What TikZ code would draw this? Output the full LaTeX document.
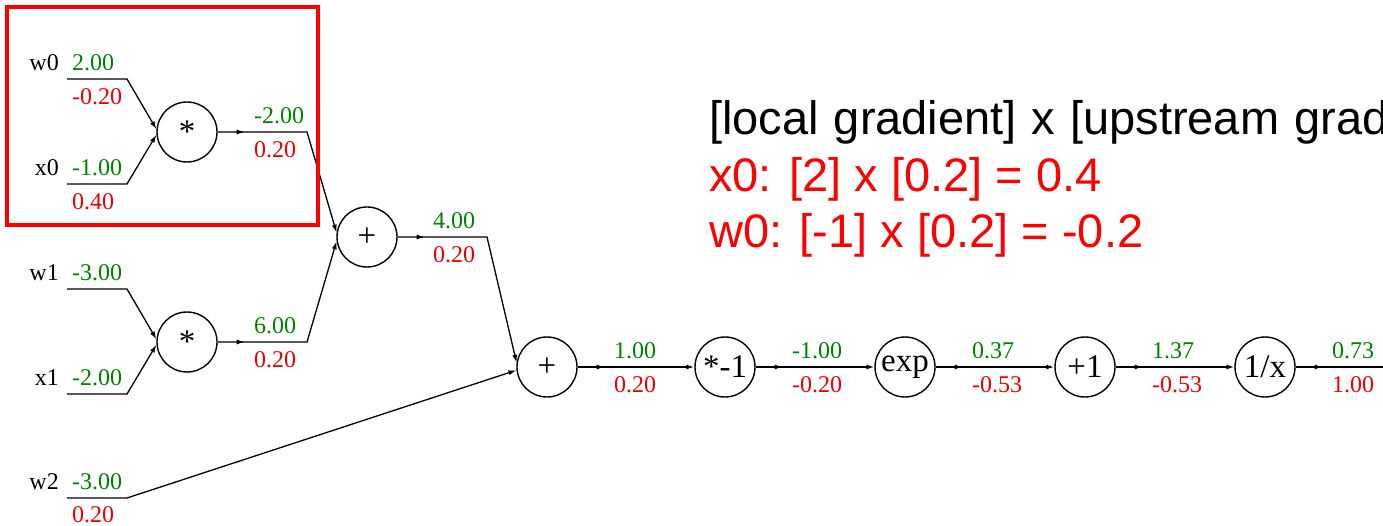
\documentclass[tikz,border=0pt]{standalone}
\usepackage{fontspec}
\setmainfont{Liberation Serif}
\newfontfamily\slidefont{Liberation Sans}
\usetikzlibrary{arrows.meta,decorations.markings}

\definecolor{fwdgreen}{RGB}{0,128,0}
\definecolor{bwdred}{RGB}{235,0,0}

\tikzset{
  gate/.style={draw, circle, minimum size=60pt, inner sep=0pt, line width=1.4pt,
    font=\fontsize{33}{33}\selectfont},
  wire/.style={line width=1.3pt, -{Latex[length=8pt,width=5pt]}},
  midtip/.style={postaction={decorate}, decoration={markings,
    mark=at position 27pt with {\arrow{Latex[length=8pt,width=5pt]}}}},
  varname/.style={inner sep=0pt, anchor=east, font=\fontsize{24}{24}\selectfont},
  fwd/.style={inner sep=0pt, anchor=west, text=fwdgreen, font=\fontsize{24}{24}\selectfont},
  bwd/.style={inner sep=0pt, anchor=west, text=bwdred, font=\fontsize{24}{24}\selectfont},
  bigtext/.style={inner sep=0pt, anchor=base west, font=\slidefont\fontsize{47}{56}\selectfont},
}

\begin{document}
\begin{tikzpicture}[x=1pt, y=-1pt]
  \useasboundingbox (0,0) rectangle (1383,526);
  \clip (0,0) rectangle (1383,526);

  % gates
  \node[gate] (mul0) at (187,132) {\raisebox{-0.22em}{*}};
  \node[gate] (add0) at (367,237) {+};
  \node[gate] (mul1) at (187,342) {\raisebox{-0.22em}{*}};
  \node[gate] (add1) at (547,367) {+};
  \node[gate] (neg) at (725,367) {*-1};
  \node[gate] (exp) at (905,367) {exp};
  \node[gate] (inc) at (1085,367) {+1};
  \node[gate] (inv) at (1265,367) {1/x};

  % wire ends and bends
  \coordinate (w0s) at (67,79);  \coordinate (w0b) at (127,79);
  \coordinate (x0s) at (67,184); \coordinate (x0b) at (127,184);
  \coordinate (w1s) at (67,289); \coordinate (w1b) at (127,289);
  \coordinate (x1s) at (67,394); \coordinate (x1b) at (127,394);
  \coordinate (w2s) at (67,498); \coordinate (w2b) at (127,498);
  \coordinate (m0b) at (307,132);
  \coordinate (m1b) at (307,342);
  \coordinate (a0b) at (487,237);
  \coordinate (outend) at (1400,367);

  % wires
  \draw[wire] (w0s) -- (w0b) -- (mul0.175);
  \draw[wire] (x0s) -- (x0b) -- (mul0.185);
  \draw[wire] (w1s) -- (w1b) -- (mul1.175);
  \draw[wire] (x1s) -- (x1b) -- (mul1.185);
  \draw[wire] (w2s) -- (w2b) -- (add1.186);
  \draw[wire, midtip] (mul0) -- (m0b) -- (add0.172);
  \draw[wire, midtip] (mul1) -- (m1b) -- (add0.188);
  \draw[wire, midtip] (add0) -- (a0b) -- (add1.172);
  \draw[wire, midtip] (add1) -- (neg);
  \draw[wire, midtip] (neg) -- (exp);
  \draw[wire, midtip] (exp) -- (inc);
  \draw[wire, midtip] (inc) -- (inv);
  \draw[line width=1.3pt, midtip] (inv) -- (outend);

  % inputs
  \node[varname] (nw0) at (59,63) {w0};
  \node[fwd] (vw0) at (72,63) {2.00};
  \node[bwd] (gw0) at (72,97) {-0.20};
  \node[varname] (nx0) at (59,168) {x0};
  \node[fwd] (vx0) at (72,168) {-1.00};
  \node[bwd] (gx0) at (72,202) {0.40};
  \node[varname] (nw1) at (59,273) {w1};
  \node[fwd] (vw1) at (72,273) {-3.00};
  \node[varname] (nx1) at (59,378) {x1};
  \node[fwd] (vx1) at (72,378) {-2.00};
  \node[varname] (nw2) at (59,482) {w2};
  \node[fwd] (vw2) at (72,482) {-3.00};
  \node[bwd] (gw2) at (72,515) {0.20};

  % gate outputs
  \node[fwd] (vmul0) at (254,116) {-2.00};
  \node[bwd] (gmul0) at (254,150) {0.20};
  \node[fwd] (vmul1) at (254,326) {6.00};
  \node[bwd] (gmul1) at (254,360) {0.20};
  \node[fwd] (vadd0) at (433,221) {4.00};
  \node[bwd] (gadd0) at (433,255) {0.20};
  \node[fwd] (vadd1) at (614,351) {1.00};
  \node[bwd] (gadd1) at (614,385) {0.20};
  \node[fwd] (vneg) at (792,351) {-1.00};
  \node[bwd] (gneg) at (792,385) {-0.20};
  \node[fwd] (vexp) at (972,351) {0.37};
  \node[bwd] (gexp) at (972,385) {-0.53};
  \node[fwd] (vinc) at (1152,351) {1.37};
  \node[bwd] (ginc) at (1152,385) {-0.53};
  \node[fwd] (vinv) at (1332,351) {0.73};
  \node[bwd] (ginv) at (1332,385) {1.00};

  % highlight and explanation
  \draw[red, line width=4pt] (7,7) rectangle (318,225);
  \node[bigtext] (rule) at (709,135) {\spaceskip=15pt [local gradient] x [upstream gradient]};
  \node[bigtext, text=red] (xrule) at (709,192) {x0: [2] x [0.2] = 0.4};
  \node[bigtext, text=red] (wrule) at (709,248) {w0: [-1] x [0.2] = -0.2};
\end{tikzpicture}
\end{document}
